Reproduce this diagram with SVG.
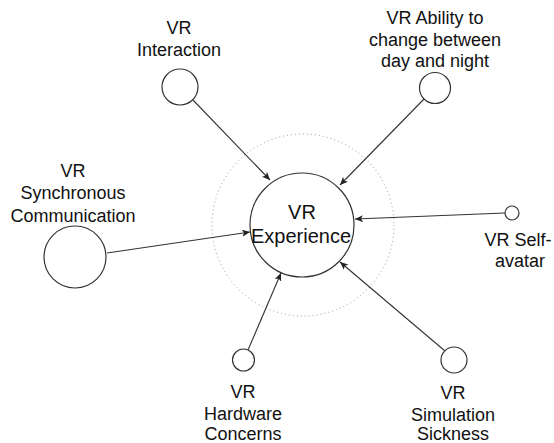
<svg xmlns="http://www.w3.org/2000/svg" width="554" height="443" viewBox="0 0 554 443">
<defs>
<marker id="arr" markerWidth="10" markerHeight="8" refX="8" refY="3.5" orient="auto" markerUnits="userSpaceOnUse">
<path d="M0,0 L8,3.5 L0,7 L2,3.5 Z" fill="#222" stroke="none"/>
</marker>
<style>
.n{fill:#fff;stroke:#333;stroke-width:1.2}
.t{font-family:"Liberation Sans",Arial,Helvetica,sans-serif;font-size:18px;fill:#111;text-anchor:middle}
.big{font-size:20px}
.e{stroke:#333;stroke-width:1.1;fill:none;marker-end:url(#arr)}
</style>
</defs>
<rect width="554" height="443" fill="#fff"/>
<circle cx="303" cy="225" r="91" fill="none" stroke="#999" stroke-width="1" stroke-dasharray="1 3"/>
<g id="connectors">
<path class="e" d="M193,100 L270,180"/>
<path class="e" d="M424,99 L340,185"/>
<path class="e" d="M107,253 L250,232"/>
<path class="e" d="M505,213 L355,219"/>
<path class="e" d="M248,350 L281,273"/>
<path class="e" d="M445,351 L340,262"/>
</g>
<g id="experience">
<circle class="n" cx="302" cy="225" r="52"/>
<text class="t big" x="302" y="219">VR</text>
<text class="t big" x="301" y="243">Experience</text>
</g>
<g id="interaction">
<circle class="n" cx="180" cy="87" r="18"/>
<text class="t" x="179" y="34">VR</text>
<text class="t" x="179" y="56">Interaction</text>
</g>
<g id="daynight">
<circle class="n" cx="435" cy="88" r="15.5"/>
<text class="t" x="435" y="24">VR Ability to</text>
<text class="t" x="435" y="46">change between</text>
<text class="t" x="435" y="67">day and night</text>
</g>
<g id="synchronous">
<circle class="n" cx="75" cy="257" r="31"/>
<text class="t" x="73" y="177">VR</text>
<text class="t" x="73" y="199">Synchronous</text>
<text class="t" x="73" y="222">Communication</text>
</g>
<g id="selfavatar">
<circle class="n" cx="512" cy="213" r="7"/>
<text class="t" x="518" y="246">VR Self-</text>
<text class="t" x="520" y="267">avatar</text>
</g>
<g id="hardware">
<circle class="n" cx="243.5" cy="360" r="11"/>
<text class="t" x="243" y="398">VR</text>
<text class="t" x="243" y="420">Hardware</text>
<text class="t" x="243" y="440">Concerns</text>
</g>
<g id="sickness">
<circle class="n" cx="454" cy="360" r="13"/>
<text class="t" x="453" y="399">VR</text>
<text class="t" x="453" y="421">Simulation</text>
<text class="t" x="453" y="440">Sickness</text>
</g>
</svg>
